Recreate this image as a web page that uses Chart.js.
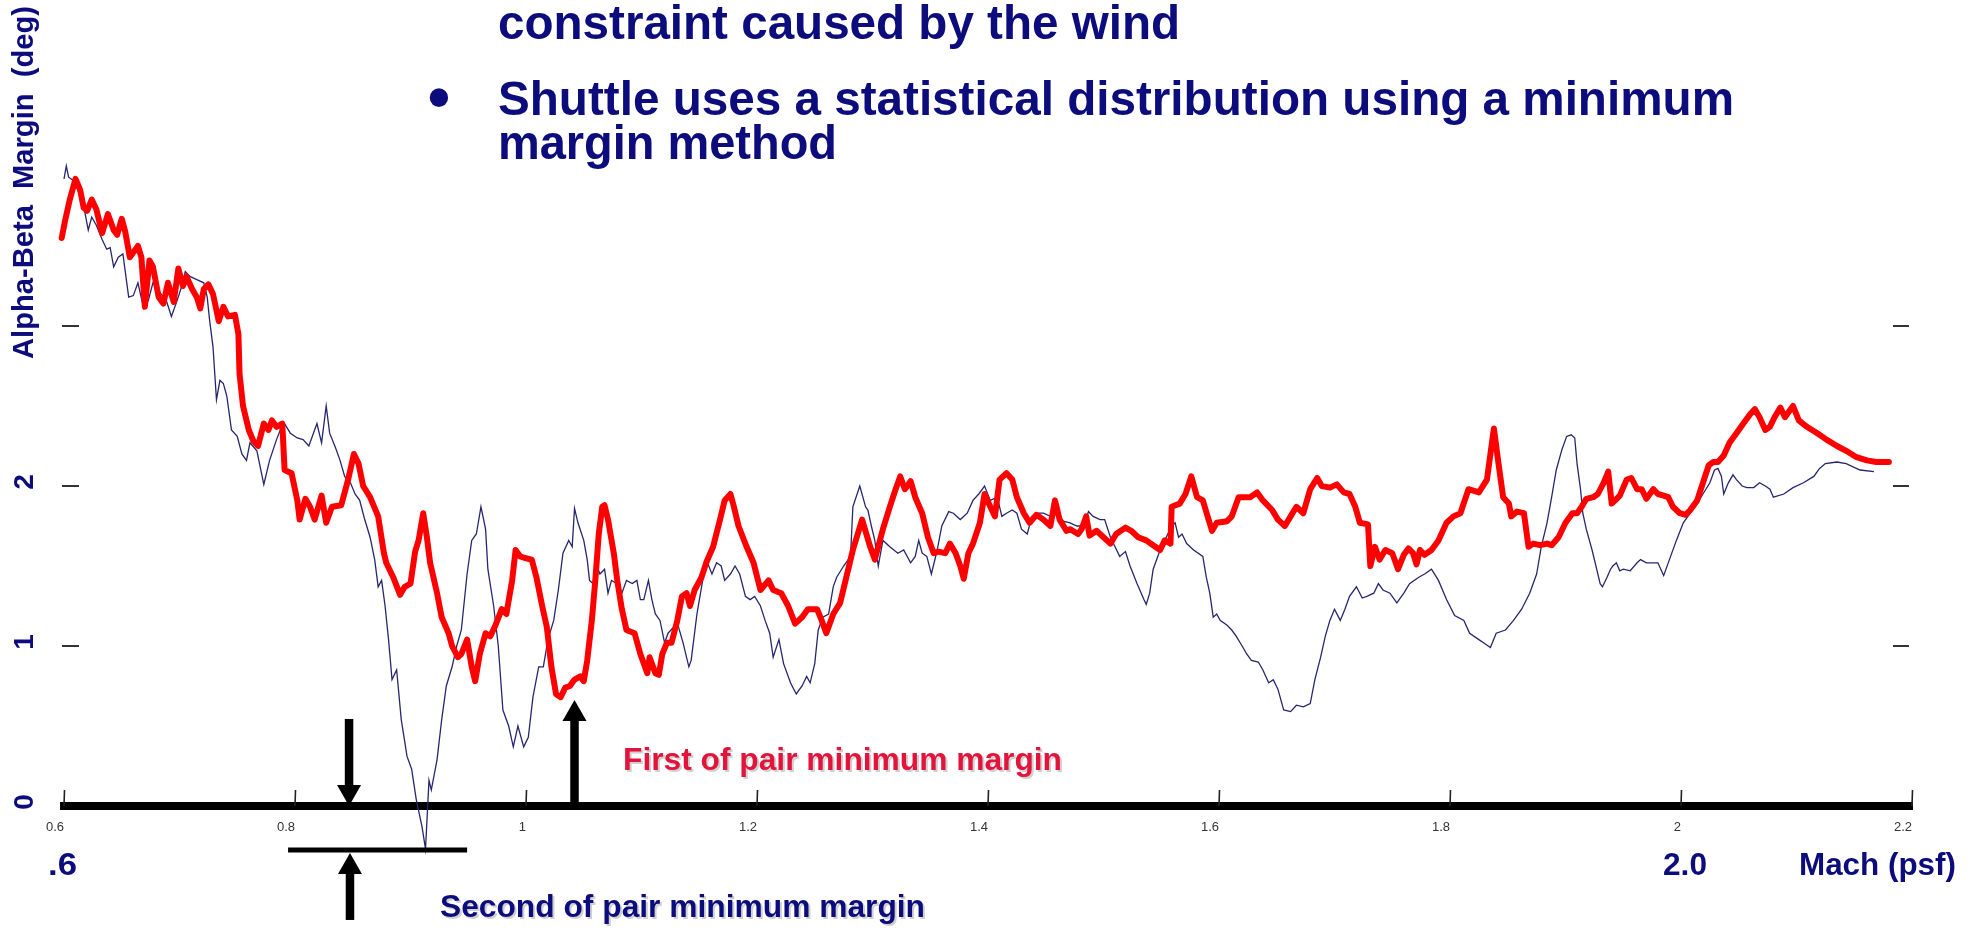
<!DOCTYPE html>
<html>
<head>
<meta charset="utf-8">
<script src="https://cdn.jsdelivr.net/npm/chart.js@4.4.1/dist/chart.umd.min.js"></script>
<style>
html,body{margin:0;padding:0;background:#ffffff;}
#wrap{position:relative;width:1976px;height:929px;}
</style>
</head>
<body>
<div id="wrap"><canvas id="c"></canvas></div>
<script>
// ---------------- data ----------------
const machTicks = [0.6, 0.8, 1.0, 1.2, 1.4, 1.6, 1.8, 2.0, 2.2];
const machTickLabels = ['0.6', '0.8', '1', '1.2', '1.4', '1.6', '1.8', '2', '2.2'];
const marginTicks = [1, 2, 3];
const marginTickLabels = ['0', '1', '2'];
const marginLabelValues = [0, 1, 2];

// red curve: "First of pair" minimum margin
const firstMach = [0.598,0.601,0.605,0.610,0.614,0.617,0.620,0.624,0.628,0.633,0.638,0.643,0.646,0.650,0.653,0.657,0.664,0.667,0.670,0.674,0.677,0.682,0.686,0.690,0.695,0.699,0.703,0.706,0.711,0.715,0.718,0.721,0.725,0.729,0.734,0.738,0.742,0.748,0.751,0.752,0.755,0.760,0.764,0.768,0.773,0.777,0.780,0.784,0.789,0.791,0.797,0.802,0.804,0.809,0.813,0.817,0.823,0.827,0.832,0.840,0.846,0.851,0.855,0.859,0.865,0.872,0.877,0.879,0.885,0.891,0.895,0.900,0.904,0.907,0.911,0.914,0.917,0.923,0.927,0.933,0.936,0.941,0.944,0.949,0.953,0.956,0.960,0.965,0.969,0.973,0.979,0.983,0.988,0.991,0.995,0.999,1.005,1.009,1.014,1.018,1.022,1.026,1.030,1.034,1.038,1.042,1.047,1.050,1.053,1.057,1.060,1.063,1.066,1.068,1.071,1.076,1.079,1.083,1.087,1.094,1.099,1.105,1.107,1.112,1.115,1.118,1.122,1.126,1.131,1.135,1.139,1.142,1.146,1.152,1.156,1.162,1.168,1.172,1.177,1.180,1.184,1.191,1.197,1.203,1.210,1.214,1.221,1.227,1.233,1.239,1.244,1.252,1.256,1.260,1.266,1.272,1.278,1.283,1.291,1.298,1.302,1.309,1.315,1.320,1.324,1.328,1.333,1.337,1.343,1.348,1.353,1.357,1.363,1.367,1.372,1.376,1.379,1.383,1.387,1.393,1.397,1.402,1.406,1.410,1.416,1.421,1.425,1.431,1.436,1.442,1.448,1.454,1.458,1.462,1.468,1.471,1.478,1.481,1.485,1.488,1.494,1.500,1.506,1.511,1.519,1.524,1.530,1.537,1.543,1.549,1.553,1.558,1.559,1.566,1.571,1.576,1.581,1.586,1.591,1.594,1.598,1.607,1.611,1.617,1.627,1.633,1.638,1.646,1.651,1.657,1.662,1.667,1.673,1.679,1.685,1.689,1.696,1.702,1.708,1.713,1.718,1.722,1.729,1.731,1.735,1.739,1.744,1.750,1.752,1.755,1.760,1.764,1.768,1.771,1.774,1.778,1.784,1.790,1.797,1.803,1.809,1.816,1.825,1.832,1.838,1.842,1.846,1.851,1.853,1.858,1.864,1.868,1.872,1.878,1.884,1.888,1.894,1.900,1.906,1.910,1.914,1.918,1.924,1.928,1.933,1.937,1.940,1.943,1.947,1.953,1.957,1.962,1.966,1.970,1.976,1.980,1.985,1.989,1.993,1.999,2.004,2.008,2.014,2.019,2.024,2.028,2.032,2.037,2.042,2.048,2.054,2.060,2.064,2.068,2.073,2.077,2.081,2.086,2.090,2.094,2.097,2.102,2.109,2.118,2.126,2.135,2.143,2.152,2.161,2.169,2.180];
const firstMargin = [3.55,3.66,3.79,3.92,3.85,3.74,3.72,3.79,3.73,3.58,3.70,3.60,3.57,3.67,3.59,3.43,3.50,3.43,3.12,3.41,3.37,3.18,3.14,3.27,3.15,3.36,3.25,3.31,3.23,3.18,3.11,3.23,3.26,3.20,3.03,3.12,3.06,3.07,2.95,2.70,2.50,2.35,2.28,2.25,2.39,2.35,2.41,2.37,2.39,2.10,2.08,1.91,1.79,1.92,1.87,1.79,1.94,1.77,1.87,1.88,2.04,2.20,2.14,2.00,1.93,1.81,1.58,1.52,1.43,1.32,1.37,1.39,1.59,1.66,1.83,1.69,1.52,1.33,1.18,1.08,1.00,0.93,0.95,1.04,0.87,0.78,0.95,1.08,1.06,1.12,1.23,1.20,1.41,1.60,1.56,1.55,1.54,1.43,1.25,1.12,0.87,0.70,0.68,0.74,0.75,0.79,0.81,0.78,0.91,1.16,1.41,1.70,1.87,1.88,1.79,1.58,1.41,1.23,1.10,1.08,0.95,0.83,0.93,0.83,0.82,0.95,1.02,1.02,1.16,1.31,1.33,1.25,1.35,1.43,1.52,1.62,1.79,1.91,1.95,1.87,1.75,1.62,1.52,1.35,1.41,1.35,1.33,1.25,1.14,1.18,1.23,1.23,1.16,1.08,1.20,1.27,1.45,1.60,1.79,1.62,1.54,1.73,1.87,1.98,2.06,1.98,2.03,1.93,1.83,1.68,1.58,1.59,1.58,1.64,1.58,1.50,1.42,1.58,1.64,1.77,1.95,1.87,1.81,2.04,2.08,2.04,1.93,1.83,1.77,1.82,1.79,1.75,1.91,1.79,1.72,1.73,1.70,1.73,1.81,1.69,1.72,1.68,1.64,1.70,1.74,1.72,1.68,1.66,1.63,1.60,1.66,1.64,1.87,1.89,1.95,2.06,1.93,1.91,1.79,1.72,1.77,1.78,1.81,1.93,1.93,1.96,1.91,1.85,1.79,1.75,1.81,1.87,1.83,1.98,2.05,2.00,1.99,2.01,1.96,1.95,1.87,1.77,1.76,1.50,1.62,1.54,1.60,1.58,1.54,1.48,1.57,1.61,1.58,1.51,1.60,1.57,1.60,1.66,1.77,1.81,1.83,1.98,1.96,2.04,2.36,2.14,1.93,1.89,1.81,1.84,1.83,1.62,1.64,1.63,1.64,1.63,1.68,1.77,1.83,1.83,1.87,1.92,1.93,1.95,2.02,2.09,1.89,1.91,1.94,2.04,2.05,1.98,1.98,1.92,1.98,1.95,1.94,1.93,1.87,1.83,1.82,1.85,1.91,2.02,2.13,2.15,2.15,2.19,2.27,2.33,2.39,2.45,2.48,2.43,2.35,2.37,2.43,2.49,2.43,2.47,2.50,2.41,2.37,2.33,2.29,2.25,2.22,2.18,2.16,2.15,2.15];

// thin navy curve: "Second of pair" minimum margin
const secondMach = [0.600,0.602,0.604,0.608,0.612,0.617,0.621,0.624,0.628,0.633,0.637,0.640,0.643,0.647,0.651,0.656,0.660,0.664,0.669,0.673,0.677,0.682,0.686,0.689,0.693,0.698,0.702,0.705,0.709,0.715,0.721,0.724,0.726,0.729,0.732,0.735,0.738,0.741,0.745,0.750,0.754,0.758,0.761,0.767,0.773,0.778,0.784,0.790,0.796,0.802,0.807,0.812,0.819,0.823,0.827,0.830,0.835,0.839,0.843,0.848,0.852,0.856,0.860,0.865,0.869,0.872,0.875,0.878,0.881,0.884,0.888,0.892,0.897,0.901,0.905,0.910,0.913,0.916,0.918,0.923,0.927,0.931,0.936,0.940,0.944,0.949,0.953,0.957,0.961,0.965,0.967,0.972,0.976,0.980,0.985,0.989,0.993,0.998,1.002,1.006,1.011,1.015,1.019,1.024,1.028,1.032,1.037,1.040,1.042,1.045,1.050,1.053,1.055,1.058,1.061,1.064,1.068,1.071,1.074,1.079,1.083,1.087,1.092,1.096,1.099,1.102,1.106,1.109,1.112,1.116,1.120,1.123,1.128,1.132,1.136,1.141,1.143,1.148,1.152,1.156,1.161,1.165,1.169,1.172,1.177,1.181,1.185,1.190,1.194,1.198,1.203,1.207,1.211,1.214,1.219,1.223,1.229,1.234,1.239,1.243,1.246,1.250,1.253,1.257,1.262,1.266,1.269,1.275,1.281,1.283,1.289,1.294,1.296,1.299,1.302,1.305,1.309,1.315,1.322,1.327,1.333,1.337,1.340,1.343,1.347,1.351,1.356,1.360,1.366,1.370,1.376,1.382,1.387,1.392,1.397,1.402,1.408,1.412,1.416,1.421,1.425,1.429,1.434,1.438,1.444,1.448,1.454,1.460,1.465,1.471,1.477,1.483,1.487,1.491,1.497,1.501,1.506,1.510,1.514,1.519,1.523,1.529,1.535,1.537,1.540,1.543,1.548,1.553,1.559,1.562,1.565,1.568,1.572,1.578,1.586,1.589,1.592,1.595,1.598,1.601,1.607,1.611,1.615,1.620,1.624,1.628,1.634,1.638,1.643,1.647,1.651,1.656,1.662,1.667,1.673,1.679,1.683,1.688,1.692,1.696,1.700,1.705,1.709,1.713,1.719,1.724,1.728,1.734,1.738,1.742,1.748,1.754,1.760,1.765,1.773,1.778,1.784,1.790,1.797,1.804,1.812,1.817,1.825,1.829,1.835,1.840,1.848,1.855,1.862,1.869,1.875,1.879,1.884,1.888,1.892,1.897,1.901,1.905,1.908,1.910,1.913,1.915,1.918,1.923,1.927,1.930,1.932,1.936,1.939,1.941,1.944,1.947,1.950,1.956,1.962,1.965,1.970,1.976,1.980,1.985,1.991,1.996,2.002,2.008,2.014,2.019,2.025,2.029,2.032,2.035,2.037,2.041,2.045,2.048,2.053,2.057,2.063,2.068,2.073,2.077,2.080,2.089,2.097,2.106,2.115,2.120,2.125,2.135,2.143,2.155,2.167];
const secondMargin = [3.92,4.00,3.93,3.91,3.85,3.75,3.60,3.68,3.63,3.54,3.48,3.49,3.37,3.43,3.45,3.18,3.19,3.27,3.11,3.16,3.27,3.22,3.18,3.15,3.06,3.16,3.25,3.34,3.31,3.29,3.27,3.18,3.04,2.87,2.54,2.66,2.64,2.56,2.35,2.31,2.20,2.16,2.27,2.22,2.01,2.16,2.29,2.40,2.33,2.30,2.29,2.25,2.39,2.27,2.50,2.33,2.24,2.16,2.06,2.02,1.95,1.91,1.80,1.68,1.54,1.37,1.41,1.25,1.04,0.79,0.85,0.54,0.31,0.23,0.04,-0.13,-0.27,0.16,0.10,0.29,0.54,0.75,0.87,1.00,1.10,1.45,1.66,1.70,1.87,1.73,1.48,1.25,1.00,0.60,0.50,0.37,0.50,0.37,0.43,0.68,0.87,0.87,1.04,1.16,1.35,1.58,1.66,1.62,1.86,1.77,1.66,1.54,1.41,1.39,1.51,1.45,1.48,1.33,1.41,1.39,1.33,1.41,1.39,1.41,1.29,1.29,1.41,1.29,1.20,1.16,1.02,1.08,1.12,1.12,1.02,0.87,0.91,1.20,1.37,1.54,1.45,1.52,1.50,1.41,1.45,1.50,1.45,1.31,1.29,1.31,1.25,1.16,1.08,0.93,1.04,0.89,0.77,0.70,0.75,0.81,0.77,0.89,1.10,1.18,1.20,1.37,1.43,1.50,1.56,1.87,2.00,1.87,1.85,1.75,1.66,1.50,1.66,1.62,1.58,1.60,1.52,1.56,1.66,1.58,1.56,1.45,1.60,1.75,1.84,1.83,1.79,1.83,1.91,1.95,2.00,1.91,1.93,1.81,1.83,1.85,1.83,1.73,1.70,1.81,1.83,1.83,1.81,1.83,1.78,1.77,1.75,1.75,1.84,1.81,1.79,1.79,1.68,1.62,1.56,1.59,1.50,1.39,1.29,1.26,1.33,1.48,1.58,1.66,1.75,1.77,1.68,1.70,1.64,1.60,1.56,1.43,1.33,1.18,1.20,1.16,1.13,1.10,1.06,1.00,0.95,0.91,0.90,0.85,0.77,0.79,0.73,0.60,0.59,0.63,0.62,0.64,0.79,0.93,1.06,1.16,1.23,1.16,1.23,1.31,1.37,1.30,1.31,1.33,1.39,1.35,1.33,1.27,1.33,1.39,1.43,1.45,1.48,1.41,1.29,1.19,1.16,1.08,1.04,1.02,0.99,1.08,1.10,1.16,1.23,1.33,1.45,1.62,1.77,1.93,2.10,2.23,2.31,2.32,2.30,2.14,1.98,1.83,1.73,1.60,1.48,1.39,1.37,1.43,1.48,1.50,1.52,1.47,1.48,1.47,1.52,1.54,1.52,1.52,1.52,1.44,1.56,1.66,1.77,1.83,1.89,1.95,2.02,2.10,2.11,2.06,1.95,2.02,2.07,2.04,2.00,1.99,1.99,2.02,2.00,1.98,1.93,1.95,1.99,2.02,2.06,2.11,2.14,2.15,2.14,2.10,2.09];

// annotation marks in data units (Mach, margin)
const arrowMach = [0.8468, 1.0420, 0.8476];
const arrowTail = [0.544, 0.000, -0.706];
const arrowTip  = [0.000, 0.6625, -0.294];
const bracketMach = [0.794, 0.949];
const bracketMargin = -0.275;

// ---------------- styling ----------------
const NAVY = '#0c0c7c';
const CRIMSON = '#e3143c';
const FONT = '"Liberation Sans", Arial, Helvetica, sans-serif';

function drawText(ctx, str, x, y, px, color, width, shadow) {
  ctx.save();
  ctx.font = 'bold ' + px + 'px ' + FONT;
  ctx.textBaseline = 'alphabetic';
  ctx.textAlign = 'left';
  const w = ctx.measureText(str).width;
  const sx = width ? width / w : 1;
  ctx.translate(x, y);
  ctx.scale(sx, 1);
  if (shadow) {
    ctx.fillStyle = 'rgba(120,120,120,0.35)';
    ctx.fillText(str, 2 / sx, 2);
  }
  ctx.fillStyle = color;
  ctx.fillText(str, 0, 0);
  ctx.restore();
}

function drawVText(ctx, str, x, y, px, color, length, align) {
  ctx.save();
  ctx.font = 'bold ' + px + 'px ' + FONT;
  ctx.textBaseline = 'alphabetic';
  ctx.textAlign = align || 'left';
  const w = ctx.measureText(str).width;
  const sl = length ? length / w : 1;
  ctx.translate(x, y);
  ctx.rotate(-Math.PI / 2);
  ctx.scale(sl, 1);
  ctx.fillStyle = color;
  ctx.fillText(str, 0, 0);
  ctx.restore();
}

function arrow(ctx, x, yTail, yTip) {
  const dir = yTip > yTail ? 1 : -1;
  const headLen = 21, headHalf = 12, shaft = 8.5;
  ctx.fillStyle = '#000';
  const yBase = yTip - dir * headLen;
  ctx.fillRect(x - shaft / 2, Math.min(yTail, yBase), shaft, Math.abs(yBase - yTail) + 1);
  ctx.beginPath();
  ctx.moveTo(x - headHalf, yBase);
  ctx.lineTo(x + headHalf, yBase);
  ctx.lineTo(x, yTip);
  ctx.closePath();
  ctx.fill();
}

const decorPlugin = {
  id: 'decor',
  afterDraw(chart) {
    const ctx = chart.ctx;
    const xs = chart.scales.x, ys = chart.scales.y;
    const area = chart.chartArea;
    const y0 = ys.getPixelForValue(0);

    // upward tick marks on the Mach axis
    ctx.save();
    ctx.strokeStyle = '#222';
    ctx.lineWidth = 1.6;
    machTicks.forEach(v => {
      const px = xs.getPixelForValue(v);
      ctx.beginPath();
      ctx.moveTo(px, y0);
      ctx.lineTo(px + 0.5, y0 - 16);
      ctx.stroke();
    });
    // inward tick dashes on both margin axes
    ctx.strokeStyle = '#333';
    ctx.lineWidth = 2;
    marginTicks.forEach(v => {
      const py = ys.getPixelForValue(v);
      ctx.beginPath();
      ctx.moveTo(area.left - 2, py);
      ctx.lineTo(area.left + 15, py);
      ctx.moveTo(area.right - 19, py);
      ctx.lineTo(area.right - 3, py);
      ctx.stroke();
    });
    ctx.restore();

    // rotated margin labels
    marginLabelValues.forEach((v, i) => {
      drawVText(ctx, marginTickLabels[i], 33, ys.getPixelForValue(v) - 4, 28, NAVY, null, 'center');
    });
    // axis title
    drawVText(ctx, 'Alpha-Beta  Margin  (deg)', 33, 359, 29, NAVY, 353, 'left');

    // arrows and bracket
    arrowMach.forEach((m, i) => {
      arrow(ctx, xs.getPixelForValue(m), ys.getPixelForValue(arrowTail[i]), ys.getPixelForValue(arrowTip[i]));
    });
    ctx.save();
    ctx.strokeStyle = '#000';
    ctx.lineWidth = 5;
    const by = ys.getPixelForValue(bracketMargin);
    ctx.beginPath();
    ctx.moveTo(xs.getPixelForValue(bracketMach[0]), by);
    ctx.lineTo(xs.getPixelForValue(bracketMach[1]), by);
    ctx.stroke();
    ctx.restore();

    // slide text
    drawText(ctx, 'constraint caused by the wind', 498, 39, 47.5, NAVY, 682);
    ctx.save();
    ctx.font = 'bold 64px ' + FONT;
    ctx.fillStyle = NAVY;
    ctx.textAlign = 'center';
    ctx.textBaseline = 'alphabetic';
    const m = ctx.measureText('\u2022');
    const midOff = (m.actualBoundingBoxAscent - m.actualBoundingBoxDescent) / 2;
    ctx.fillText('\u2022', 439, 97 + midOff);
    ctx.restore();
    drawText(ctx, 'Shuttle uses a statistical distribution using a minimum', 498, 115, 47.5, NAVY, 1236);
    drawText(ctx, 'margin method', 498, 159, 47.5, NAVY, 339);

    // annotation labels
    drawText(ctx, 'First of pair minimum margin', 623, 770, 31.7, CRIMSON, 439, true);
    drawText(ctx, 'Second of pair minimum margin', 440, 917, 31.7, NAVY, 485, true);
    drawText(ctx, '.6', 48, 875, 31.5, NAVY, 29);
    drawText(ctx, '2.0', 1663, 875, 31.5, NAVY, 44);
    drawText(ctx, 'Mach (psf)', 1799, 875, 31.5, NAVY, 157);
  }
};

function pts(xa, ya) { return xa.map((x, i) => ({ x: x, y: ya[i] })); }

new Chart(document.getElementById('c'), {
  type: 'line',
  data: {
    datasets: [
      {
        label: 'Second of pair',
        data: pts(secondMach, secondMargin),
        borderColor: '#26266e',
        borderWidth: 1.3,
        pointRadius: 0,
        tension: 0,
        clip: false,
        order: 2
      },
      {
        label: 'First of pair',
        data: pts(firstMach, firstMargin),
        borderColor: '#ff0000',
        borderWidth: 6,
        borderJoinStyle: 'round',
        borderCapStyle: 'round',
        pointRadius: 0,
        tension: 0,
        clip: false,
        order: 1
      }
    ]
  },
  options: {
    responsive: true,
    maintainAspectRatio: false,
    animation: false,
    events: [],
    layout: { padding: { left: 64, right: 64, top: 6, bottom: 93 } },
    plugins: { legend: { display: false }, tooltip: { enabled: false }, title: { display: false } },
    scales: {
      x: {
        type: 'linear',
        position: 'bottom',
        min: 0.6,
        max: 2.2,
        afterBuildTicks: (s) => { s.ticks = machTicks.map(v => ({ value: v })); },
        afterFit: (s) => { s.height = 30; },
        grid: { display: false, drawTicks: false },
        border: { display: true, color: '#000', width: 8 },
        ticks: {
          align: 'end',
          padding: 14,
          color: '#333',
          font: { family: 'Liberation Sans', size: 13 },
          maxRotation: 0,
          autoSkip: false,
          callback: (v, i) => machTickLabels[i]
        }
      },
      y: {
        type: 'linear',
        display: false,
        min: 0,
        max: 5
      }
    }
  },
  plugins: [decorPlugin]
});
</script>
</body>
</html>
